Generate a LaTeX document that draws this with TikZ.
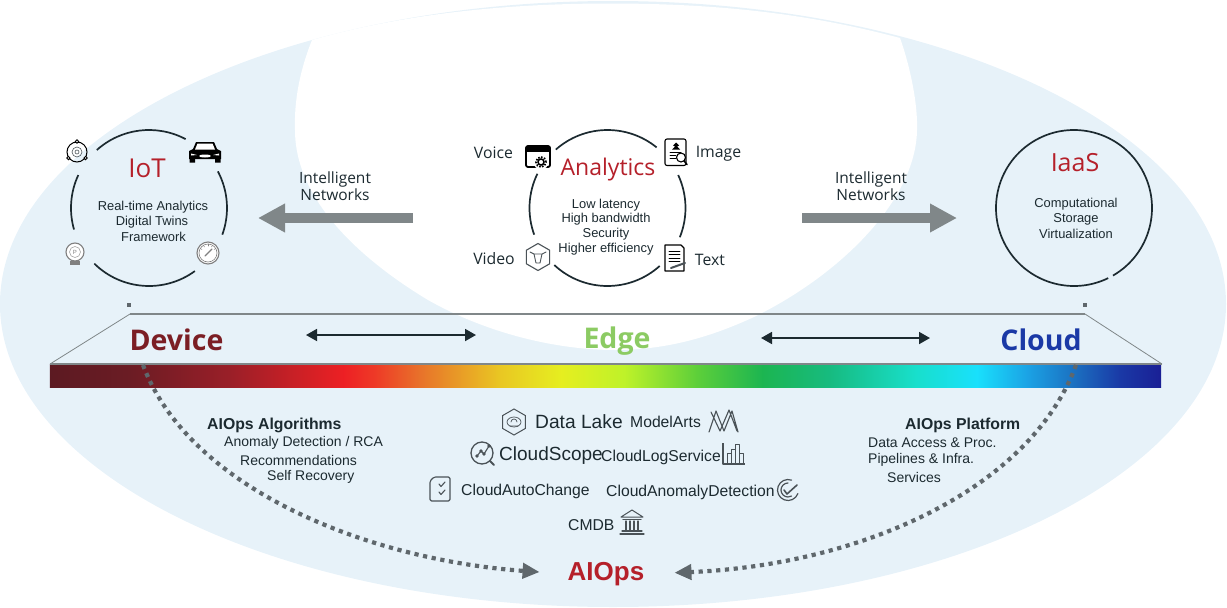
\documentclass[tikz,border=0pt]{standalone}
\usepackage{fontspec}
\setmainfont{Liberation Sans}
\newfontfamily\opensans{Open Sans}
\usetikzlibrary{arrows.meta,shapes.geometric}
\newcommand{\pxfont}[1]{\fontsize{#1}{#1}\selectfont}
\definecolor{haze}{HTML}{E7F2F9}
\definecolor{crimson}{HTML}{B5202A}
\definecolor{ink}{HTML}{1C2A30}
\definecolor{slate}{HTML}{5F676C}
\definecolor{steel}{HTML}{808789}
\definecolor{iconink}{HTML}{4A5257}
\definecolor{devred}{HTML}{7B1E24}
\definecolor{edgegreen}{HTML}{8CCB63}
\definecolor{c0}{HTML}{5C1A22}\definecolor{c1}{HTML}{6B1C24}\definecolor{c2}{HTML}{9A1F28}
\definecolor{c3}{HTML}{ED2024}\definecolor{c4}{HTML}{EE3A27}\definecolor{c5}{HTML}{E8722A}
\definecolor{c6}{HTML}{E9C723}\definecolor{c7}{HTML}{E6EE20}\definecolor{c8}{HTML}{BEF229}
\definecolor{c9}{HTML}{5DCF3A}\definecolor{c10}{HTML}{1CB551}\definecolor{c11}{HTML}{17BB80}
\definecolor{c12}{HTML}{18DFCB}\definecolor{c13}{HTML}{19E0FC}\definecolor{c14}{HTML}{1BA3E5}
\definecolor{c15}{HTML}{1B6FC0}\definecolor{c16}{HTML}{1A39A6}\definecolor{c17}{HTML}{1A1F95}

\begin{document}
\begin{tikzpicture}
  [x=1pt, y=1pt, every node/.style={inner sep=0pt, text=ink},
  ringline/.style={draw=ink, line width=1.7pt},
  body/.style={font=\pxfont{12.9}},
  detail/.style={font=\pxfont{14}, anchor=west},
  heading/.style={font=\pxfont{15.8}\bfseries, anchor=west},
  service/.style={font=\pxfont{15.7}, anchor=west},
  media/.style={font=\opensans\pxfont{15.8}},
  network/.style={font=\opensans\pxfont{15.5}, align=center},
  ringtitle/.style={font=\opensans\pxfont{#1}, text=crimson},
  zone/.style={font=\opensans\pxfont{28.5}\bfseries},
  bigarrow/.style={draw=steel, line width=9.5pt, -{Triangle[length=27pt,width=27pt]}},
  spanarrow/.style={draw=ink, line width=1.8pt, {Triangle[length=11pt,width=12pt]}-{Triangle[length=11pt,width=12pt]}},
  dotline/.style={draw=slate, line width=4.2pt, dash pattern=on 4.2pt off 4.6pt, -{Triangle[length=17pt,width=15pt]}},
  dotcap/.style={rectangle, fill=slate, minimum size=4pt},
  icn/.style={draw=iconink, line width=1.1pt, line join=round, line cap=round},
  dark/.style={draw=black, line width=1.5pt, line join=round, line cap=round}]
  \useasboundingbox (0,0) rectangle (1227,-608);

  % background
  \fill[haze] (613,-304) ellipse [x radius=613, y radius=303];
  \fill[white] (312,-40) .. controls (400,-15) and (500,-3.5) .. (610,-3.5)
    .. controls (720,-3.5) and (810,-14) .. (900,-38)
    .. controls (908,-60) and (918,-100) .. (917,-130)
    .. controls (916,-200) and (840,-275) .. (754,-317)
    .. controls (715,-335) and (670,-350) .. (615,-350)
    .. controls (560,-350) and (490,-335) .. (428,-300)
    .. controls (370,-265) and (295,-205) .. (295,-130)
    .. controls (294,-100) and (300,-70) .. (312,-40) -- cycle;

  % three rings
  \coordinate (iotc) at (149,-208);
  \coordinate (anac) at (607.5,-208);
  \coordinate (iaasc) at (1074,-208);
  \foreach \a/\b in {62/132,155/196,225.5/306,-20/28}
    \draw[ringline] ([shift=(\a:78pt)]iotc) arc [start angle=\a, end angle=\b, radius=78pt];
  \foreach \a/\b in {51/131.5,154/200,227/312,-22/25}
    \draw[ringline] ([shift=(\a:78pt)]anac) arc [start angle=\a, end angle=\b, radius=78pt];
  \draw[ringline] ([shift=(-60:78pt)]iaasc) arc [start angle=-60, end angle=296, radius=78pt];

  \node[ringtitle=26] (iot) at (147,-168) {IoT};
  \node[body] (iot1) at (153,-207) {Real-time Analytics};
  \node[body] (iot2) at (152,-222) {Digital Twins};
  \node[body] (iot3) at (153.5,-237) {Framework};

  \node[ringtitle=23] (analytics) at (608,-170) {Analytics};
  \node[body] (ana1) at (606,-205) {Low latency};
  \node[body] (ana2) at (606,-219) {High bandwidth};
  \node[body] (ana3) at (606,-234) {Security};
  \node[body] (ana4) at (606,-249) {Higher efficiency};
  \node[media] (voice) at (493.5,-153) {Voice};
  \node[media] (image) at (718.5,-153.5) {Image};
  \node[media] (video) at (494,-258.5) {Video};
  \node[media] (text) at (710,-259.5) {Text};

  \node[ringtitle=25] (iaas) at (1075,-163) {IaaS};
  \node[body] (iaas1) at (1076,-204) {Computational};
  \node[body] (iaas2) at (1076,-219) {Storage};
  \node[body] (iaas3) at (1076,-234) {Virtualization};

  % networks
  \node[network] (netl) at (335,-186) {Intelligent\\[2pt]Networks};
  \node[network] (netr) at (871,-186) {Intelligent\\[2pt]Networks};
  \coordinate (netla) at (413,-218);
  \coordinate (netlb) at (258,-218);
  \coordinate (netra) at (802,-218);
  \coordinate (netrb) at (957,-218);
  \draw[bigarrow] (netla) -- (netlb);
  \draw[bigarrow] (netra) -- (netrb);

  % spectrum
  \coordinate (tl) at (130,-314);
  \coordinate (tr) at (1085,-314);
  \coordinate (bl) at (50,-364);
  \coordinate (br) at (1162,-364);
  \foreach \xa/\xb/\ca/\cb in {50/130/c0/c1,130/230/c1/c2,230/344/c2/c3,344/375/c3/c4,375/420/c4/c5,
    420/500/c5/c6,500/561/c6/c7,561/625/c7/c8,625/697/c8/c9,697/763/c9/c10,763/830/c10/c11,
    830/915/c11/c12,915/977/c12/c13,977/1027/c13/c14,1027/1075/c14/c15,1075/1120/c15/c16,1120/1161/c16/c17}
    \shade[left color=\ca, right color=\cb] (\xa-0.2,-364) rectangle (\xb+0.2,-387);
  \draw[draw=steel, line width=1.6pt] (tl) -- (tr);
  \draw[draw=steel, line width=1.6pt] (bl) -- (br);
  \draw[draw=steel, line width=0.8pt] (tl) -- (bl);
  \draw[draw=steel, line width=0.8pt] (tr) -- (br);
  \node[dotcap] (capl) at (129,-305) {};
  \node[dotcap] (capr) at (1085,-305) {};

  \node[zone, text=devred] (device) at (176.5,-340) {Device};
  \node[zone, text=edgegreen] (edge) at (617,-341.5) {Edge};
  \node[zone, text=c16] (cloud) at (1041,-340) {Cloud};
  \coordinate (spanla) at (306,-335);
  \coordinate (spanlb) at (476,-335);
  \coordinate (spanra) at (761,-338);
  \coordinate (spanrb) at (930,-338);
  \draw[spanarrow] (spanla) -- (spanlb);
  \draw[spanarrow] (spanra) -- (spanrb);

  % AIOps side
  \node[font=\pxfont{26}\bfseries, text=crimson] (aiops) at (606,-574) {AIOps};
  \coordinate (dotl) at (143,-365);
  \coordinate (dotr) at (1076,-365);
  \draw[dotline, shorten >=28pt] (dotl) .. controls (190,-490) and (370,-560) .. (aiops.west);
  \draw[dotline, shorten >=30pt] (dotr) .. controls (1030,-490) and (860,-565) .. (aiops.east);

  \node[heading] (algo) at (207,-425) {AIOps Algorithms};
  \node[detail] (algo1) at (224,-443) {Anomaly Detection / RCA};
  \node[detail] (algo2) at (240,-460) {Recommendations};
  \node[detail] (algo3) at (267,-477) {Self Recovery};
  \node[heading] (plat) at (905,-425) {AIOps Platform};
  \node[detail] (plat1) at (868,-443) {Data Access \& Proc.};
  \node[detail] (plat2) at (868,-460) {Pipelines \& Infra.};
  \node[detail] (plat3) at (887,-477) {Services};

  \node[service, font=\pxfont{19.2}] (lake) at (535,-422) {Data Lake};
  \node[service] (arts) at (630,-422) {ModelArts};
  \node[service, font=\pxfont{19}] (scope) at (499,-456) {CloudScope};
  \node[service] (logs) at (601,-457) {CloudLogService};
  \node[service] (change) at (461,-491) {CloudAutoChange};
  \node[service] (anomaly) at (606,-492) {CloudAnomalyDetection};
  \node[service] (cmdb) at (568,-525) {CMDB};

  % icons round IoT
  \begin{scope}[shift={(77,-152)}]
    \draw[draw=black, line width=1pt] (0,0) circle (10);
    \draw[icn, line width=0.6pt] (0,0) circle (5) (0,0) circle (2);
    \foreach \a in {90,215,325}
      \draw[draw=black, fill=white, line width=0.9pt] (\a:10.5) circle (1.7);
  \end{scope}
  \begin{scope}[shift={(205,-152)}]
    \fill[black] (-16,-7) -- (-16,1) -- (-12,3) -- (-9,10) -- (9,10) -- (12,3) -- (16,1) -- (16,-7) -- cycle;
    \fill[black] (-15.5,-10.5) rectangle (-10,-7) (10,-10.5) rectangle (15.5,-7);
    \fill[white] (-10,2.5) -- (-7.5,8.5) -- (7.5,8.5) -- (10,2.5) -- cycle;
    \fill[white] (-14,-1.5) -- (-8,-3) -- (-14,-3.5) -- cycle (14,-1.5) -- (8,-3) -- (14,-3.5) -- cycle;
    \fill[white] (0,-4) ellipse [x radius=6, y radius=1.5];
  \end{scope}
  \begin{scope}[shift={(75,-252)}]
    \draw[icn, draw=gray, fill=white] (0,0) circle (9);
    \draw[icn, draw=gray!70, line width=0.6pt] (0,0) circle (5.5);
    \fill[gray] (-5,-13) rectangle (5,-8.5);
    \node[font=\pxfont{6}, text=gray] (bulbp) at (0,0) {P};
  \end{scope}
  \begin{scope}[shift={(208,-253)}]
    \draw[icn, draw=gray, fill=white] (0,0) circle (11);
    \draw[icn, draw=gray, line width=0.6pt] (0,0) circle (9);
    \draw[icn, draw=gray] (-3,-3) -- (4,4);
    \foreach \a in {150,120,90,60,30}
      \draw[icn, draw=gray, line width=0.5pt] (\a:7) -- (\a:9);
  \end{scope}

  % icons round Analytics
  \begin{scope}[shift={(538,-157)}]
    \draw[dark, line width=1.8pt, rounded corners=2pt] (-12,-10) rectangle (12,11);
    \fill[black] (-12,11) rectangle (12,5.5);
    \fill[white] (3,-5) circle (7.5);
    \draw[draw=black, line width=1.8pt, dash pattern=on 1.6pt off 1.4pt] (3,-5) circle (5);
    \draw[draw=black, line width=1.5pt] (3,-5) circle (3);
  \end{scope}
  \begin{scope}[shift={(676,-152.5)}]
    \draw[dark, line width=1.1pt, rounded corners=2pt] (-11,-13) rectangle (10,13.5);
    \fill[black] (-3,7) -- (0,10) -- (3,7) -- (1,6) -- (4,3) -- (-4,3) -- (-1,6) -- cycle;
    \draw[dark, line width=0.8pt] (-6,0) -- (5,0) (-6,-3) -- (0,-3) (-6,-6) -- (0,-6);
    \draw[dark, fill=white, line width=1.1pt] (5,-5) circle (4.5);
    \draw[dark] (8,-8.5) -- (11,-12);
  \end{scope}
  \node[regular polygon, regular polygon sides=6, rotate=30, draw=iconink, line width=1.1pt, minimum size=27pt] (bull) at (538,-257) {};
  \draw[icn, line width=0.9pt] (530,-252) -- (534,-254) -- (542,-254) -- (546,-252) (534,-254) -- (536,-263) -- (540,-263) -- (542,-254);
  \begin{scope}[shift={(675,-258)}]
    \draw[dark, line width=1.1pt] (-10,13) -- (6,13) -- (9,10) -- (9,-13) -- (-10,-13) -- cycle;
    \foreach \y in {7,3.5,0,-3.5}
      \draw[dark, line width=0.8pt] (-6,\y) -- (5,\y);
    \draw[dark, line width=2pt, draw=iconink] (-4,-10) -- (10,-5);
  \end{scope}

  % icons of the services
  \node[regular polygon, regular polygon sides=6, rotate=30, draw=iconink, line width=1pt, minimum size=26pt] (hexlake) at (514,-422) {};
  \draw[icn, line width=0.7pt] (514,-422) ellipse [x radius=7, y radius=5];
  \draw[icn, line width=0.7pt] (511,-422) arc [start angle=180, end angle=0, radius=3] (510,-426) -- (518,-426);
  \draw[icn] (709,-432) -- (716,-411) -- (724,-431) -- (732,-411) -- (738,-432)
    (711,-412) -- (720,-431) -- (729,-410) -- (737,-431);
  \begin{scope}[shift={(482,-453)}]
    \draw[icn, line width=1.3pt] (0,0) circle (11);
    \draw[icn, line width=2pt] (8,-8) -- (12,-12);
    \draw[icn] (-5,-3) -- (-1,2) -- (2,-1) -- (7,7);
    \fill[iconink] (-5,-3) circle (1.8) (-1,2) circle (1.8) (2,-1) circle (1.8) (7,7) circle (1.8);
  \end{scope}
  \draw[icn, line cap=butt] (723,-443) -- (723,-464) -- (745,-464);
  \draw[icn, line width=0.9pt] (727,-463) rectangle (731,-453) (731,-463) rectangle (735,-449) (735,-463) rectangle (739,-444) (739,-463) rectangle (743,-453);
  \begin{scope}[shift={(440,-489)}]
    \draw[icn, rounded corners=1.5pt] (-6,12) -- (10,12) -- (10,-12) -- (-10,-12) -- (-10,8) -- cycle;
    \draw[icn] (-1,5) -- (1,2.5) -- (5,7) (-1,-3) -- (1,-5.5) -- (5,-1);
  \end{scope}
  \begin{scope}[shift={(788,-490)}]
    \draw[icn, line width=1.2pt] (70:10.5) arc [start angle=70, end angle=340, radius=10.5];
    \draw[icn, line width=1.2pt] (90:7) arc [start angle=90, end angle=300, radius=7];
    \draw[icn, line width=1.6pt] (-4,0) -- (-1,-4) -- (9,5);
  \end{scope}
  \begin{scope}[shift={(632,-522)}]
    \draw[icn, line width=1pt] (-11,5) -- (0,12) -- (11,5) -- cycle;
    \draw[icn] (-9,2.5) -- (9,2.5) (-12,-12) -- (12,-12) (-10,-9) -- (10,-9);
    \draw[icn] (-6,1) -- (-6,-8) (-2,1) -- (-2,-8) (2,1) -- (2,-8) (6,1) -- (6,-8);
  \end{scope}
\end{tikzpicture}
\end{document}
